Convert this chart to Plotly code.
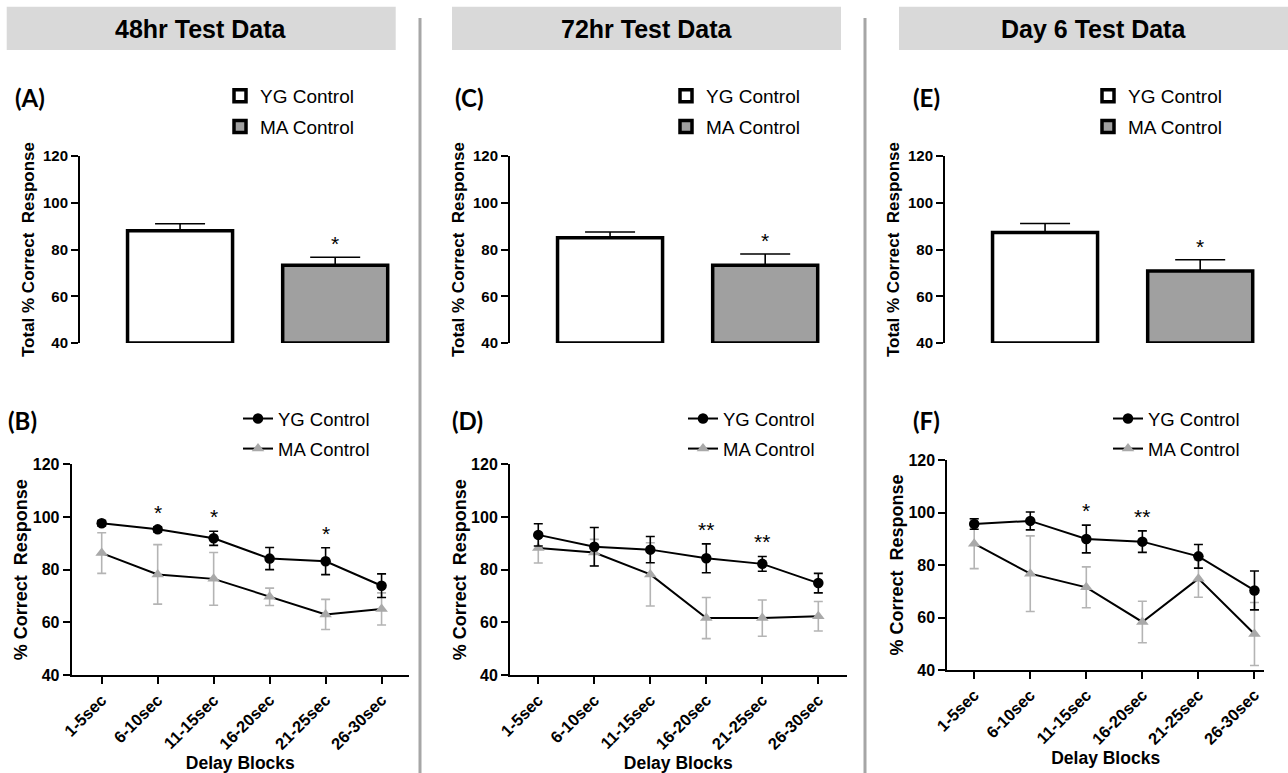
import plotly.graph_objects as go

W, H = 1288, 773

# ---------------- data ----------------
bar_groups = ["YG Control", "MA Control"]
bar_48 = [88.0, 73.3]
bar_48_err = [3.0, 3.4]
bar_72 = [85.0, 73.3]
bar_72_err = [2.5, 4.8]
bar_d6 = [87.3, 70.8]
bar_d6_err = [3.8, 4.8]
bar_sig = ["", "*"]

delay_blocks = ["1-5sec", "6-10sec", "11-15sec", "16-20sec", "21-25sec", "26-30sec"]
yg_48 = [97.6, 95.3, 91.9, 84.2, 83.2, 73.9]
yg_48_err = [1.0, 1.0, 2.7, 4.2, 5.1, 4.5]
ma_48 = [86.3, 78.2, 76.5, 69.7, 63.0, 65.1]
ma_48_err = [7.7, 11.3, 10.0, 3.3, 5.7, 6.1]
sig_48 = ["", "*", "*", "", "*", ""]

yg_72 = [93.2, 88.7, 87.6, 84.3, 82.2, 74.9]
yg_72_err = [4.2, 7.3, 5.0, 5.5, 2.8, 3.7]
ma_72 = [88.2, 86.5, 78.2, 61.6, 61.6, 62.3]
ma_72_err = [5.7, 5.0, 12.0, 7.8, 6.9, 5.6]
sig_72 = ["", "", "", "**", "**", ""]

yg_d6 = [95.6, 96.8, 89.9, 88.9, 83.3, 70.3]
yg_d6_err = [2.0, 3.4, 5.3, 4.1, 4.5, 7.4]
ma_d6 = [88.1, 76.7, 71.5, 58.3, 74.8, 53.7]
ma_d6_err = [9.5, 14.4, 7.8, 7.9, 7.1, 12.0]
sig_d6 = ["", "", "*", "**", "", ""]

headers = ["48hr Test Data", "72hr Test Data", "Day 6 Test Data"]
bar_labels = ["(A)", "(C)", "(E)"]
line_labels = ["(B)", "(D)", "(F)"]

# ---------------- helpers ----------------
def px(x):
    return x / W

def py(y):
    return 1 - y / H

ARIAL = "Liberation Sans, Arial, sans-serif"
GRAY_BAR = "#a0a0a0"
GRAY_MA = "#a9a9a9"

fig = go.Figure()

bar_sets = [(bar_48, bar_48_err), (bar_72, bar_72_err), (bar_d6, bar_d6_err)]
line_sets = [
    (yg_48, yg_48_err, ma_48, ma_48_err, sig_48),
    (yg_72, yg_72_err, ma_72, ma_72_err, sig_72),
    (yg_d6, yg_d6_err, ma_d6, ma_d6_err, sig_d6),
]

annotations = []
shapes = []

# bar panels
for i, (vals, errs) in enumerate(bar_sets):
    ax = i + 1
    xa = "x" if ax == 1 else f"x{ax}"
    ya = "y" if ax == 1 else f"y{ax}"
    leg = "legend" if ax == 1 else f"legend{ax}"
    fills = ["white", GRAY_BAR]
    for j, g in enumerate(bar_groups):
        fig.add_trace(go.Bar(
            x=[g], y=[vals[j] - 40], base=40, name=g,
            customdata=[vals[j]], hovertemplate="%{x}: %{customdata}<extra></extra>",
            width=0.677, cliponaxis=False,
            marker=dict(color=fills[j], line=dict(color="black", width=3.5)),
            error_y=dict(type="data", symmetric=False, array=[errs[j]], arrayminus=[0],
                         color="black", thickness=1.6, width=25),
            xaxis=xa, yaxis=ya, legend=leg, legendrank=j + 1, showlegend=True,
            legendgroup=f"p{ax}_{j}",
        ))
        if bar_sig[j]:
            annotations.append(dict(
                x=g, y=vals[j] + errs[j], xref=xa, yref=ya, text=bar_sig[j],
                showarrow=False, yanchor="bottom", yshift=0,
                font=dict(family=ARIAL, size=21, color="black"),
            ))

# line panels
for i, (yg, yge, ma, mae, sig) in enumerate(line_sets):
    ax = i + 4
    xa = f"x{ax}"
    ya = f"y{ax}"
    leg = f"legend{ax}"
    fig.add_trace(go.Scatter(
        x=delay_blocks, y=ma, name="MA Control", mode="lines+markers",
        line=dict(color="black", width=2),
        marker=dict(symbol="triangle-up", size=11, color=GRAY_MA),
        error_y=dict(type="data", array=mae, color="#b4b4b4", thickness=1.6, width=4.5),
        xaxis=xa, yaxis=ya, legend=leg, legendrank=2, cliponaxis=False,
        legendgroup=f"p{ax}_ma",
    ))
    fig.add_trace(go.Scatter(
        x=delay_blocks, y=yg, name="YG Control", mode="lines+markers",
        line=dict(color="black", width=2),
        marker=dict(symbol="circle", size=10.5, color="black"),
        error_y=dict(type="data", array=yge, color="black", thickness=1.6, width=4.5),
        xaxis=xa, yaxis=ya, legend=leg, legendrank=1, cliponaxis=False,
        legendgroup=f"p{ax}_yg",
    ))
    for k, s in enumerate(sig):
        if s:
            annotations.append(dict(
                x=delay_blocks[k], y=yg[k] + yge[k], xref=xa, yref=ya, text=s,
                showarrow=False, yanchor="bottom", yshift=1,
                font=dict(family=ARIAL, size=21, color="black"),
            ))

# ---------------- axes ----------------
bar_x_dom = [(80, 405), (510, 835), (945, 1270)]
bar_y_dom = (156, 343)
line_x_dom = [(71.7, 409), (510, 846.7), (947.3, 1264)]
line_y_dom = [(464.3, 675), (464.3, 675), (460, 670)]
line_x_rng = [[-0.536, 5.49], [-0.505, 5.507], [-0.48, 5.17]]

yaxis_common = dict(
    range=[40, 120], dtick=20, tick0=40, showline=True, linecolor="black", linewidth=2,
    ticks="outside", ticklen=7, tickwidth=2, tickcolor="black", showgrid=False,
    zeroline=False, color="black", automargin=False,
)

layout_axes = {}
for i in range(3):
    ax = i + 1
    xk = "xaxis" if ax == 1 else f"xaxis{ax}"
    yk = "yaxis" if ax == 1 else f"yaxis{ax}"
    ya = "y" if ax == 1 else f"y{ax}"
    xa = "x" if ax == 1 else f"x{ax}"
    layout_axes[xk] = dict(
        domain=[px(bar_x_dom[i][0]), px(bar_x_dom[i][1])], anchor=ya,
        range=[-0.645, 1.45], showline=False, showticklabels=False, ticks="",
        showgrid=False, zeroline=False, type="category", automargin=False,
    )
    layout_axes[yk] = dict(
        domain=[py(bar_y_dom[1]), py(bar_y_dom[0])], anchor=xa,
        tickfont=dict(family=ARIAL, size=15, color="black", weight="bold"),
        title=dict(text="Total % Correct\u00a0 Response", standoff=4,
                   font=dict(family=ARIAL, size=17, color="black", weight="bold")),
        **yaxis_common,
    )

for i in range(3):
    ax = i + 4
    layout_axes[f"xaxis{ax}"] = dict(
        domain=[px(line_x_dom[i][0]), px(line_x_dom[i][1])], anchor=f"y{ax}",
        range=line_x_rng[i], type="category", showline=True, linecolor="black", linewidth=2,
        ticks="outside", ticklen=7, tickwidth=2, tickcolor="black", tickangle=-45,
        tickfont=dict(family=ARIAL, size=16.5, color="black", weight="bold"),
        showgrid=False, zeroline=False, automargin=False,
        title=dict(text="Delay Blocks", standoff=5,
                   font=dict(family=ARIAL, size=17.5, color="black", weight="bold")),
    )
    layout_axes[f"yaxis{ax}"] = dict(
        domain=[py(line_y_dom[i][1]), py(line_y_dom[i][0])], anchor=f"x{ax}",
        tickfont=dict(family=ARIAL, size=16, color="black", weight="bold"),
        title=dict(text="% Correct\u00a0 Response", standoff=0,
                   font=dict(family=ARIAL, size=18, color="black", weight="bold")),
        **yaxis_common,
    )

# ---------------- decorations ----------------
header_boxes = [(6.7, 395.7), (452, 841), (899, 1288)]
for (x0, x1), t in zip(header_boxes, headers):
    shapes.append(dict(type="rect", xref="paper", yref="paper",
                       x0=px(x0), x1=px(x1), y0=py(50), y1=py(6.7),
                       fillcolor="#d9d9d9", line=dict(width=0), layer="below"))
    annotations.append(dict(x=px((x0 + x1) / 2), y=py(29), xref="paper", yref="paper",
                            text=f"<b>{t}</b>", showarrow=False, xanchor="center", yanchor="middle",
                            font=dict(family=ARIAL, size=25, color="black")))

for sx in [420, 865]:
    shapes.append(dict(type="line", xref="paper", yref="paper",
                       x0=px(sx), x1=px(sx), y0=py(18), y1=0,
                       line=dict(color="#a6a6a6", width=3), layer="below"))

bar_label_x = [13, 453, 911]
line_label_x = [6, 450, 911]
for lx, t in zip(bar_label_x, bar_labels):
    annotations.append(dict(x=px(lx), y=py(97), xref="paper", yref="paper", text=f"<b>{t}</b>",
                            showarrow=False, xanchor="left", yanchor="middle",
                            font=dict(family="Lato, Open Sans, sans-serif", size=24, color="black")))
for lx, t in zip(line_label_x, line_labels):
    annotations.append(dict(x=px(lx), y=py(420), xref="paper", yref="paper", text=f"<b>{t}</b>",
                            showarrow=False, xanchor="left", yanchor="middle",
                            font=dict(family="Lato, Open Sans, sans-serif", size=24, color="black")))

# legends
legend_common = dict(xanchor="left", yanchor="top", bgcolor="rgba(0,0,0,0)", borderwidth=0,
                     traceorder="grouped", tracegroupgap=3, itemclick=False, itemdoubleclick=False)
bar_leg_x = [220, 666, 1088]
line_leg_x = [238, 683, 1108]
legends = {}
for i in range(3):
    k = "legend" if i == 0 else f"legend{i + 1}"
    legends[k] = dict(x=px(bar_leg_x[i]), y=py(77), font=dict(family=ARIAL, size=19, color="black"),
                      **legend_common)
for i in range(3):
    k = f"legend{i + 4}"
    legends[k] = dict(x=px(line_leg_x[i]), y=py(400), font=dict(family=ARIAL, size=18.5, color="black"),
                      **legend_common)

fig.update_layout(
    width=W, height=H, margin=dict(l=0, r=0, t=0, b=0, autoexpand=False),
    paper_bgcolor="white", plot_bgcolor="white",
    barmode="overlay", showlegend=True,
    shapes=shapes, annotations=annotations,
    **layout_axes, **legends,
)

fig.write_html("out.html", config={"displayModeBar": False},
               post_script="document.body.style.margin='0px';document.body.style.padding='0px';")
